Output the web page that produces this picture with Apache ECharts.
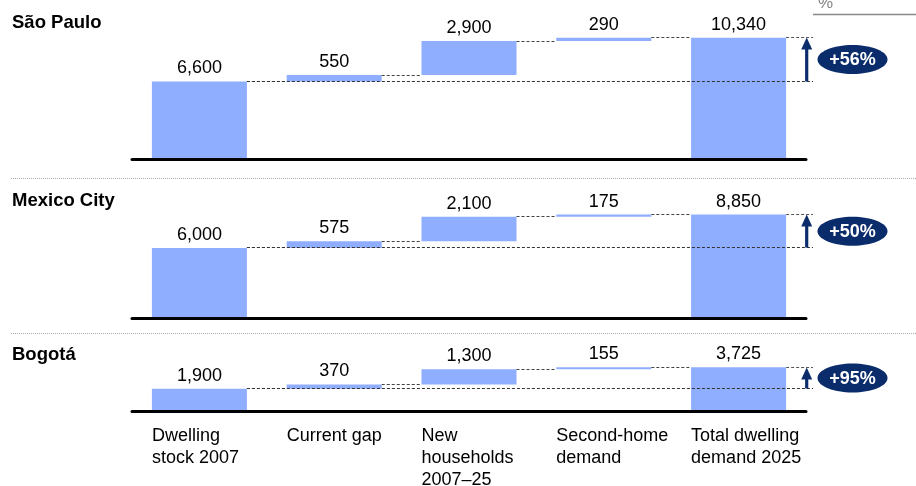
<!DOCTYPE html>
<html><head><meta charset="utf-8">
<script src="https://cdn.jsdelivr.net/npm/echarts@6/dist/echarts.min.js"></script>
<style>html,body{margin:0;padding:0;background:#fff}#c{width:916px;height:486px}</style>
</head><body><div id="c"></div>
<script>
// ---- data ----
const categories = ['Dwelling\nstock 2007', 'Current gap', 'New\nhouseholds\n2007–25', 'Second-home\ndemand', 'Total dwelling\ndemand 2025'];
const cities = ['São Paulo', 'Mexico City', 'Bogotá'];
const saoPaulo = [6600, 550, 2900, 290, 10340];
const mexicoCity = [6000, 575, 2100, 175, 8850];
const bogota = [1900, 370, 1300, 155, 3725];
const growthLabels = ['+56%', '+50%', '+95%'];
const unitLabel = '%';

// ---- layout ----
const FONT = "'Liberation Sans', Arial, sans-serif";
const BAR = '#8FAEFF';
const NAVY = '#0B2C6B';
const panelData = [saoPaulo, mexicoCity, bogota];
const layout = [
  { top: 18.2, height: 140.6, max: 12000, titleTop: 14 },
  { top: 201.1, height: 117.2, max: 10000, titleTop: 191.5 },
  { top: 352.4, height: 58.6, max: 5000, titleTop: 346 }
];
const BW = 0.705;

function fmt(v) { return String(v).replace(/\B(?=(\d{3})+(?!\d))/g, ','); }
function crisp(y) { return Math.round(y - 0.5) + 0.5; }

const grid = [], xAxis = [], yAxis = [], series = [], title = [];
panelData.forEach((vals, k) => {
  const L = layout[k];
  grid.push({ left: 132, right: 110, top: L.top, height: L.height, outerBoundsMode: 'none' });
  title.push({ text: cities[k], left: 12, top: L.titleTop, padding: 0,
    textStyle: { fontFamily: FONT, fontSize: 18.5, fontWeight: 'bold', color: '#000', lineHeight: 18 } });
  const showLab = k === 2;
  xAxis.push({
    type: 'category', gridIndex: k, data: categories, z: 5,
    axisTick: { show: false },
    axisLine: { show: true, lineStyle: { color: '#000', width: 3 } },
    axisLabel: showLab ? {
      show: true, interval: 0, margin: 14, align: 'center',
      formatter: (v) => v.split('\n').map(s => '{a|' + s + '}').join('\n'),
      rich: { a: { width: 95, align: 'left', fontFamily: FONT, fontSize: 18, lineHeight: 22, color: '#000' } }
    } : { show: false },
    splitLine: { show: false }
  });
  yAxis.push({ type: 'value', gridIndex: k, min: 0, max: L.max, show: false });

  // waterfall bases and levels
  const base = [], levels = [];
  let cum = 0;
  vals.forEach((v, i) => {
    if (i === 0) { base.push(0); cum = v; }
    else if (i === vals.length - 1) { base.push(0); }
    else { base.push(cum); cum += v; }
    levels.push(i === vals.length - 1 ? v : cum);
  });

  series.push({
    type: 'bar', name: 'base' + k, stack: 's' + k, xAxisIndex: k, yAxisIndex: k,
    barWidth: (BW * 100) + '%', silent: true,
    itemStyle: { color: 'rgba(0,0,0,0)' }, data: base
  });
  series.push({
    type: 'bar', name: 'val' + k, stack: 's' + k, xAxisIndex: k, yAxisIndex: k,
    barWidth: (BW * 100) + '%', silent: true,
    itemStyle: { color: BAR },
    label: { show: true, position: 'top', distance: 4, fontFamily: FONT, fontSize: 18, color: '#000',
      formatter: (p) => fmt(vals[p.dataIndex]) },
    data: vals
  });
  // connectors between consecutive bars
  const conn = [];
  for (let i = 0; i < vals.length - 1; i++) conn.push([i, levels[i]]);
  series.push({
    type: 'custom', xAxisIndex: k, yAxisIndex: k, silent: true, clip: false, z: 4,
    data: conn,
    renderItem: (params, api) => {
      const i = api.value(0), lvl = api.value(1);
      const band = api.size([1, 0])[0];
      const bw = band * BW;
      const p1 = api.coord([i, lvl]);
      const p2 = api.coord([i + 1, lvl]);
      const y = crisp(p1[1]);
      return { type: 'line', shape: { x1: p1[0] + bw / 2, y1: y, x2: p2[0] - bw / 2, y2: y },
        style: { stroke: '#444', lineWidth: 1, lineDash: [3, 2] } };
    }
  });
  // reference line, growth arrow and badge
  const last = vals.length - 1;
  series.push({
    type: 'custom', xAxisIndex: k, yAxisIndex: k, silent: true, clip: false, z: 6,
    data: [[last, vals[0], vals[last]]],
    renderItem: (params, api) => {
      const i = api.value(0), start = api.value(1), total = api.value(2);
      const band = api.size([1, 0])[0];
      const bw = band * BW;
      const p0 = api.coord([0, start]);
      const pS = api.coord([i, start]);
      const pT = api.coord([i, total]);
      const xEnd = pS[0] + band / 2 + 7;
      const xA = pS[0] + band / 2 + 0.7;
      const ys = crisp(p0[1]), yt = crisp(pT[1]);
      const cx = xEnd + 39.5, cy = (p0[1] + pT[1]) / 2;
      return { type: 'group', children: [
        { type: 'line', shape: { x1: p0[0] + bw / 2, y1: ys, x2: xEnd, y2: ys },
          style: { stroke: '#333', lineWidth: 1, lineDash: [3, 2] } },
        { type: 'line', shape: { x1: pT[0] + bw / 2, y1: yt, x2: xEnd, y2: yt },
          style: { stroke: '#555', lineWidth: 1, lineDash: [3, 2] } },
        { type: 'line', shape: { x1: xA, y1: ys, x2: xA, y2: yt + 10 },
          style: { stroke: NAVY, lineWidth: 3.2 } },
        { type: 'polygon', shape: { points: [[xA - 5.5, yt + 12], [xA + 5.5, yt + 12], [xA, yt]] },
          style: { fill: NAVY } },
        { type: 'ellipse', shape: { cx: cx, cy: cy, rx: 35, ry: 14.5 }, style: { fill: NAVY } },
        { type: 'text', style: { x: cx, y: cy + 0.5, text: growthLabels[k], fill: '#fff',
          font: 'bold 18px ' + FONT, align: 'center', verticalAlign: 'middle' } }
      ] };
    }
  });
});

const graphic = [
  { type: 'line', shape: { x1: 11, y1: 178.5, x2: 916, y2: 178.5 }, style: { stroke: '#aaa', lineWidth: 1, lineDash: [1, 1] } },
  { type: 'line', shape: { x1: 11, y1: 333.5, x2: 916, y2: 333.5 }, style: { stroke: '#aaa', lineWidth: 1, lineDash: [1, 1] } },
  { type: 'text', x: 818, y: 3, style: { text: unitLabel, fill: '#888', font: '17px ' + FONT, verticalAlign: 'middle' } },
  { type: 'line', shape: { x1: 813, y1: 14.5, x2: 916, y2: 14.5 }, style: { stroke: '#888', lineWidth: 1.5 } }
];

const chart = echarts.init(document.getElementById('c'), null, { renderer: 'canvas' });
chart.setOption({
  animation: false,
  backgroundColor: '#fff',
  title, grid, xAxis, yAxis, series, graphic,
  tooltip: { show: false }
});
</script>
</body></html>
